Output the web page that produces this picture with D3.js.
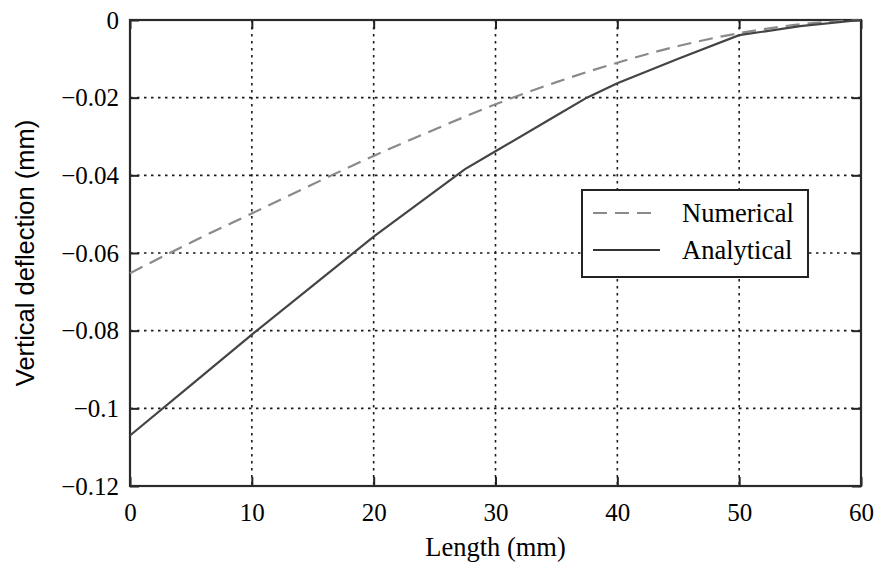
<!DOCTYPE html>
<html>
<head>
<meta charset="utf-8">
<script src="https://cdn.jsdelivr.net/npm/d3@7"></script>
<style>
  body { margin: 0; background: #fff; }
  svg { display: block; }
</style>
</head>
<body>
<svg id="chart" width="875" height="567"></svg>
<script>
// data
const lengths = [0, 5, 10, 15, 20, 25, 27.5, 30, 35, 37.5, 40, 45, 50, 55, 60];
const analytical = [-0.107, -0.094, -0.081, -0.0684, -0.0558, -0.0442, -0.0384, -0.0338, -0.0246, -0.020, -0.0163, -0.0100, -0.0039, -0.0016, 0];
const numLengths = [0, 5, 10, 15, 20, 25, 30, 35, 40, 45, 50, 55, 60];
const numerical = [-0.0652, -0.0573, -0.0498, -0.0423, -0.0350, -0.0282, -0.0217, -0.0160, -0.0110, -0.0067, -0.0034, -0.0011, 0];
const xTicks = [0, 10, 20, 30, 40, 50, 60];
const yTicks = [0, -0.02, -0.04, -0.06, -0.08, -0.1, -0.12];
const seriesNames = ["Numerical", "Analytical"];

const svg = d3.select("#chart");
const margin = { top: 20, right: 14, bottom: 81, left: 130 };
const width = 875, height = 567;
const serif = "'Liberation Serif', 'Times New Roman', serif";

const x = d3.scaleLinear().domain([0, 60]).range([margin.left, width - margin.right]);
const y = d3.scaleLinear().domain([-0.12, 0]).range([height - margin.bottom, margin.top]);

const fmtY = (d) => (d === 0 ? "0" : "\u2212" + String(Math.abs(d)));

// grid lines (dotted)
const grid = svg.append("g").attr("stroke", "#1a1a1a").attr("stroke-width", 1.6).attr("stroke-dasharray", "2.5,4.5");
grid.selectAll("line.v").data(xTicks.slice(1, -1)).join("line")
  .attr("x1", (d) => x(d)).attr("x2", (d) => x(d))
  .attr("y1", y(0)).attr("y2", y(-0.12));
grid.selectAll("line.h").data(yTicks.slice(1, -1)).join("line")
  .attr("x1", x(0)).attr("x2", x(60))
  .attr("y1", (d) => y(d)).attr("y2", (d) => y(d));

// axes with inward ticks, mirrored on top and right
const tickLen = 9;
svg.append("g")
  .attr("transform", `translate(0,${y(-0.12)})`)
  .call(d3.axisBottom(x).tickValues(xTicks).tickSizeInner(-tickLen).tickSizeOuter(0).tickPadding(17).tickFormat(d3.format("d")))
  .call((g) => g.select(".domain").remove())
  .call((g) => g.selectAll("line").attr("stroke", "#222").attr("stroke-width", 2))
  .call((g) => g.selectAll("text").attr("font-family", serif).attr("font-size", 25).attr("fill", "#000"));

svg.append("g")
  .attr("transform", `translate(${x(0)},0)`)
  .call(d3.axisLeft(y).tickValues(yTicks).tickSizeInner(-tickLen).tickSizeOuter(0).tickPadding(11).tickFormat(fmtY))
  .call((g) => g.select(".domain").remove())
  .call((g) => g.selectAll("line").attr("stroke", "#222").attr("stroke-width", 2))
  .call((g) => g.selectAll("text").attr("font-family", serif).attr("font-size", 25).attr("fill", "#000"));

svg.append("g")
  .attr("transform", `translate(0,${y(0)})`)
  .call(d3.axisTop(x).tickValues(xTicks).tickSizeInner(-tickLen).tickSizeOuter(0).tickFormat(""))
  .call((g) => g.select(".domain").remove())
  .call((g) => g.selectAll("line").attr("stroke", "#222").attr("stroke-width", 2));

svg.append("g")
  .attr("transform", `translate(${x(60)},0)`)
  .call(d3.axisRight(y).tickValues(yTicks).tickSizeInner(-tickLen).tickSizeOuter(0).tickFormat(""))
  .call((g) => g.select(".domain").remove())
  .call((g) => g.selectAll("line").attr("stroke", "#222").attr("stroke-width", 2));

// frame
svg.append("rect")
  .attr("x", x(0)).attr("y", y(0))
  .attr("width", x(60) - x(0)).attr("height", y(-0.12) - y(0))
  .attr("fill", "none").attr("stroke", "#2a2a2a").attr("stroke-width", 2.2);

// series
const numLine = d3.line().x((d, i) => x(numLengths[i])).y((d) => y(d)).curve(d3.curveMonotoneX);
const anaLine = d3.line().x((d, i) => x(lengths[i])).y((d) => y(d));

svg.append("path")
  .attr("d", numLine(numerical))
  .attr("fill", "none").attr("stroke", "#8a8a8a").attr("stroke-width", 2.2)
  .attr("stroke-dasharray", "14,8");

svg.append("path")
  .attr("d", anaLine(analytical))
  .attr("fill", "none").attr("stroke", "#444").attr("stroke-width", 2.2);

// legend
const legend = svg.append("g").attr("transform", "translate(582,190)");
legend.append("rect").attr("width", 226).attr("height", 87)
  .attr("fill", "#fff").attr("stroke", "#222").attr("stroke-width", 2);
const items = legend.selectAll("g").data(seriesNames).join("g")
  .attr("transform", (d, i) => `translate(0,${23 + i * 37})`);
items.append("line")
  .attr("x1", 11).attr("x2", (d, i) => (i === 0 ? 76 : 78))
  .attr("stroke", (d, i) => (i === 0 ? "#8a8a8a" : "#333"))
  .attr("stroke-width", 2)
  .attr("stroke-dasharray", (d, i) => (i === 0 ? "14,8" : null));
items.append("text")
  .attr("x", 100).attr("dy", "0.35em")
  .attr("font-family", serif).attr("font-size", 26.5).attr("fill", "#000")
  .text((d) => d);

// axis titles
svg.append("text")
  .attr("x", x(30)).attr("y", 556)
  .attr("text-anchor", "middle")
  .attr("font-family", serif).attr("font-size", 26.5).attr("fill", "#000")
  .text("Length (mm)");

svg.append("text")
  .attr("transform", `translate(34,${(y(0) + y(-0.12)) / 2}) rotate(-90)`)
  .attr("text-anchor", "middle")
  .attr("font-family", "'Liberation Sans', Arial, sans-serif").attr("font-size", 25.5).attr("fill", "#000")
  .text("Vertical deflection (mm)");
</script>
</body>
</html>
